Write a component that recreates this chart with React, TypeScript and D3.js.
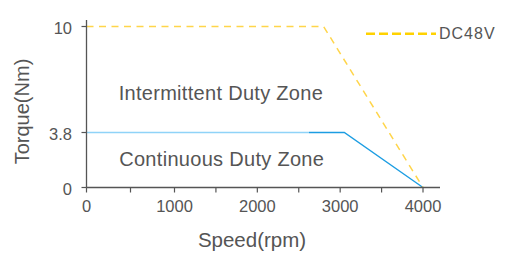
import React from "react";
import * as d3 from "d3";

const xTicks = [0, 500, 1000, 1500, 2000, 2500, 3000, 3500, 4000];
const xTickLabels = ["0", "1000", "2000", "3000", "4000"];
const yTicks = [0, 3.8, 10];
const yTickLabels = ["0", "3.8", "10"];

const dc48vSpeed = [0, 2800, 4000];
const dc48vTorque = [10, 10, 0];
const contSpeed = [0, 3050, 4000];
const contTorque = [3.8, 3.8, 0];
const contColorSwitchSpeed = 2620;

const zoneLabels = ["Intermittent Duty Zone", "Continuous Duty Zone"];
const zoneTorque = [5.7, 1.52];
const zoneSpeed = [1560, 1570];
const legendLabel = "DC48V";

const W = 513;
const H = 272;

export default function App() {
  const x = d3.scaleLinear().domain([0, 1000, 4000]).range([86.5, 174.5, 423]);
  const y = d3.scaleLinear().domain([0, 3.8, 10]).range([187.5, 132.5, 26.5]);

  const line = d3
    .line<[number, number]>()
    .x((d) => x(d[0]))
    .y((d) => y(d[1]));

  const yellowPts = dc48vSpeed.map((s, i) => [s, dc48vTorque[i]] as [number, number]);
  const bluePts = contSpeed.map((s, i) => [s, contTorque[i]] as [number, number]);

  const axisColor = "#555555";
  const textColor = "#555555";
  const font = "'Liberation Sans', Arial, sans-serif";

  const axisLeft = 86.5;
  const axisRight = 440;
  const axisTop = 20;
  const axisBottom = y(0);

  const switchX = x(contColorSwitchSpeed);
  const off = (switchX - x(0)) / (x(4000) - x(0));

  return (
    <svg
      width={W}
      height={H}
      style={{ position: "absolute", left: 0, top: 0, background: "#fff" }}
      fontFamily={font}
    >
      <defs>
        <linearGradient id="blueGrad" gradientUnits="userSpaceOnUse" x1={x(0)} x2={x(4000)} y1={0} y2={0}>
          <stop offset={0} stopColor="#8fd3f8" />
          <stop offset={off} stopColor="#8fd3f8" />
          <stop offset={off} stopColor="#1c9de2" />
          <stop offset={1} stopColor="#1c9de2" />
        </linearGradient>
      </defs>

      {/* curves */}
      <path d={line(bluePts) || ""} fill="none" stroke="url(#blueGrad)" strokeWidth={1.4} />
      <path
        d={line(yellowPts) || ""}
        fill="none"
        stroke="#ffd54a"
        strokeWidth={1.5}
        strokeDasharray="7 5.5"
      />

      {/* axes */}
      <line x1={axisLeft} x2={axisLeft} y1={axisTop} y2={axisBottom} stroke={axisColor} strokeWidth={1.3} />
      <line x1={axisLeft} x2={axisRight} y1={axisBottom} y2={axisBottom} stroke={axisColor} strokeWidth={1.3} />

      {xTicks.map((t) => (
        <line key={"xt" + t} x1={x(t)} x2={x(t)} y1={axisBottom} y2={axisBottom + 5} stroke={axisColor} strokeWidth={1.2} />
      ))}
      {xTickLabels.map((l) => (
        <text
          key={"xl" + l}
          x={x(+l)}
          y={212}
          textAnchor="middle"
          fontSize={16.5}
          fill={textColor}
        >
          {l}
        </text>
      ))}

      {yTicks.map((t) => (
        <line key={"yt" + t} x1={axisLeft - 5} x2={axisLeft} y1={y(t)} y2={y(t)} stroke={axisColor} strokeWidth={1.2} />
      ))}
      {yTickLabels.map((l) => (
        <text
          key={"yl" + l}
          x={72}
          y={y(+l) + 7}
          textAnchor="end"
          fontSize={16.5}
          fill={textColor}
        >
          {l}
        </text>
      ))}

      {/* zone labels */}
      {zoneLabels.map((l, i) => (
        <text
          key={l}
          x={x(zoneSpeed[i])}
          y={y(zoneTorque[i])}
          textAnchor="middle"
          fontSize={20}
          letterSpacing={0.3}
          fill={textColor}
        >
          {l}
        </text>
      ))}

      {/* axis titles */}
      <text x={252} y={246.5} textAnchor="middle" fontSize={20.5} fill={textColor}>
        Speed(rpm)
      </text>
      <text
        transform={`translate(28.5,111.5) rotate(-90)`}
        textAnchor="middle"
        fontSize={20}
        fill={textColor}
      >
        Torque(Nm)
      </text>

      {/* legend */}
      <line x1={366} x2={436} y1={33.7} y2={33.7} stroke="#ffd200" strokeWidth={2.5} strokeDasharray="9 4" />
      <text x={439} y={39.3} fontSize={16} letterSpacing={1} fill={textColor}>
        {legendLabel}
      </text>
    </svg>
  );
}
